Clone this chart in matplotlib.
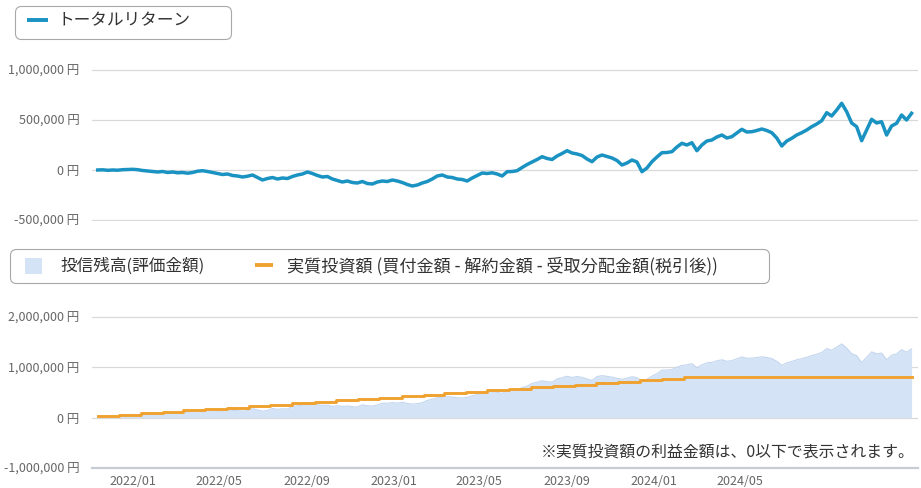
import matplotlib
matplotlib.use("Agg")
import numpy as np
import pandas as pd
import matplotlib.pyplot as plt
import matplotlib.dates as mdates
from matplotlib.patches import FancyBboxPatch, Rectangle
from matplotlib.ticker import FuncFormatter

plt.rcParams['font.family'] = ['Noto Sans CJK JP', 'DejaVu Sans']

# ---- data (in thousand yen) -----------------------------------------------
week_start = '2021-11-12'          # weekly samples
total_return_k = [
    0, 2, -3, 0, -2, 3, 5, 7, 3, -5,
    -10, -15, -20, -15, -25, -20, -28, -25, -32, -25,
    -12, -7, -15, -25, -35, -45, -40, -55, -60, -70,
    -62, -50, -75, -100, -85, -75, -90, -80, -85, -65,
    -50, -40, -20, -35, -55, -70, -65, -90, -105, -120,
    -110, -125, -130, -115, -135, -140, -120, -110, -115, -100,
    -110, -125, -145, -160, -150, -130, -115, -90, -60, -50,
    -70, -75, -90, -95, -110, -80, -55, -30, -35, -28,
    -40, -60, -17, -15, -7, 25, 55, 80, 105, 133,
    115, 105, 140, 165, 193, 170, 160, 145, 110, 83,
    130, 150, 135, 120, 95, 50, 70, 100, 80, -17,
    20, 83, 130, 173, 175, 183, 230, 267, 250, 273,
    193, 250, 290, 300, 330, 350, 320, 333, 370, 407,
    380, 383, 395, 410, 395, 373, 320, 240, 290, 317,
    350, 373, 400, 433, 460, 493, 573, 540, 600, 667,
    583, 470, 433, 293, 400, 507, 470, 483, 350, 440,
    467, 550, 500, 567,
]
valuation_k = [
    29, 31, 26, 29, 27, 60, 62, 64, 60, 81,
    76, 71, 66, 71, 89, 94, 86, 89, 111, 118,
    131, 136, 156, 146, 136, 126, 160, 145, 140, 130,
    138, 179, 154, 129, 144, 182, 167, 177, 172, 221,
    236, 246, 266, 251, 259, 244, 249, 224, 238, 223,
    233, 218, 213, 256, 236, 231, 251, 290, 285, 300,
    290, 304, 284, 269, 279, 299, 342, 367, 397, 407,
    416, 411, 396, 391, 404, 434, 459, 484, 508, 515,
    503, 483, 526, 556, 564, 596, 626, 680, 705, 733,
    715, 705, 769, 794, 822, 799, 817, 802, 767, 740,
    816, 836, 821, 806, 781, 764, 784, 814, 794, 726,
    763, 826, 873, 944, 946, 954, 1001, 1038, 1050, 1073,
    993, 1050, 1090, 1100, 1130, 1150, 1120, 1133, 1170, 1207,
    1180, 1183, 1195, 1210, 1195, 1173, 1120, 1040, 1090, 1117,
    1150, 1173, 1200, 1233, 1260, 1293, 1373, 1340, 1400, 1467,
    1383, 1270, 1233, 1093, 1200, 1307, 1270, 1283, 1150, 1240,
    1267, 1350, 1300, 1367,
]
buy_start = '2021-11-12'           # monthly purchases
invested_k = [
    29, 57, 86, 114, 143, 171, 200, 229, 257, 286,
    314, 343, 371, 400, 429, 457, 486, 514, 543, 571,
    600, 629, 657, 686, 714, 743, 771, 800,
]
last_date = '2024-12-27'

tick_dates = ['2022-01-01', '2022-05-01', '2022-09-01', '2023-01-01',
              '2023-05-01', '2023-09-01', '2024-01-01', '2024-05-01']
tick_labels = ['2022/01', '2022/05', '2022/09', '2023/01',
               '2023/05', '2023/09', '2024/01', '2024/05']

top_yticks = [-500000, 0, 500000, 1000000]
bot_yticks = [-1000000, 0, 1000000, 2000000]

# ---- styling ----------------------------------------------------------------
C_RET = '#1a93c2'
C_INV = '#f0a230'
C_AREA = '#d5e3f6'
C_AREA_EDGE = '#c3d6ef'
C_GRID = '#d9d9d9'
C_LABEL = '#666666'
C_TEXT = '#333333'

W, H = 921, 488

weeks = pd.date_range(week_start, periods=len(total_return_k), freq='7D')
buys = list(pd.date_range(buy_start, periods=len(invested_k),
                          freq=pd.DateOffset(months=1)))
inv_x = buys + [pd.Timestamp(last_date)]
inv_y = [v * 1000 for v in invested_k] + [invested_k[-1] * 1000]
ret = np.array(total_return_k) * 1000
val = np.array(valuation_k) * 1000

xlim = (mdates.date2num(pd.Timestamp('2021-11-04')),
        mdates.date2num(pd.Timestamp('2025-01-05')))

yen_fmt = FuncFormatter(lambda v, p: f"{v:,.0f} 円")

fig = plt.figure(figsize=(W / 100, H / 100), dpi=100)


def px_axes(x0, y0, x1, y1):
    return fig.add_axes([x0 / W, 1 - y1 / H, (x1 - x0) / W, (y1 - y0) / H])


def style_axis(ax, yticks):
    ax.set_xlim(*xlim)
    ax.set_yticks(yticks)
    ax.yaxis.set_major_formatter(yen_fmt)
    ax.grid(axis='y', color=C_GRID, lw=0.9)
    ax.set_axisbelow(True)
    for s in ax.spines.values():
        s.set_visible(False)
    ax.tick_params(axis='y', length=0, pad=9, labelsize=9, labelcolor=C_LABEL)


# ---- top: total return --------------------------------------------------------
ax1 = px_axes(92, 69, 918, 221)
ax1.plot(weeks, ret, color=C_RET, lw=2.5, solid_joinstyle='round')
style_axis(ax1, top_yticks)
ax1.set_ylim(-510000, 1010000)
ax1.set_xticks([])

# ---- bottom: valuation & invested --------------------------------------------
ax2 = px_axes(92, 315.5, 918, 468)
ax2.fill_between(weeks, 0, val, color=C_AREA, lw=0)
ax2.plot(weeks, val, color=C_AREA_EDGE, lw=0.8)
ax2.plot(inv_x, inv_y, color=C_INV, lw=2.1, drawstyle='steps-post')
style_axis(ax2, bot_yticks)
ax2.set_ylim(-1000000, 2030000)
ax2.spines['bottom'].set_visible(True)
ax2.spines['bottom'].set_color('#c8cdd3')
ax2.spines['bottom'].set_linewidth(1.6)
ax2.set_xticks([mdates.date2num(pd.Timestamp(d)) for d in tick_dates])
ax2.set_xticklabels(tick_labels)
ax2.tick_params(axis='x', length=0, pad=5, labelsize=9, labelcolor=C_LABEL)

# ---- legends and note (pixel overlay) ----------------------------------------
ov = fig.add_axes([0, 0, 1, 1], zorder=5)
ov.set_xlim(0, W)
ov.set_ylim(H, 0)
ov.axis('off')
ov.patch.set_alpha(0)

ov.add_patch(FancyBboxPatch((15.5, 6.5), 216, 33,
                            boxstyle='round,pad=0,rounding_size=6',
                            ec='#a8a8a8', fc='white', lw=0.8))
ov.plot([27, 48], [20, 20], color=C_RET, lw=2.8, solid_capstyle='butt')
ov.text(58, 21, 'トータルリターン', fontsize=12, color=C_TEXT, va='center')

ov.add_patch(FancyBboxPatch((10.5, 249.5), 759, 34,
                            boxstyle='round,pad=0,rounding_size=6',
                            ec='#a8a8a8', fc='white', lw=0.8))
ov.add_patch(Rectangle((25, 258), 17, 16, fc=C_AREA, ec='none'))
ov.text(60, 266.5, '投信残高(評価金額)', fontsize=12, color=C_TEXT, va='center')
ov.plot([255, 273], [265, 265], color=C_INV, lw=2.8, solid_capstyle='butt')
ov.text(287, 266.5, '実質投資額 (買付金額 - 解約金額 - 受取分配金額(税引後))',
        fontsize=12.3, color=C_TEXT, va='center')

ov.text(915, 452, '※実質投資額の利益金額は、0以下で表示されます。',
        fontsize=11.4, color=C_TEXT, ha='right', va='center')

fig.savefig('out.png', dpi=100)
